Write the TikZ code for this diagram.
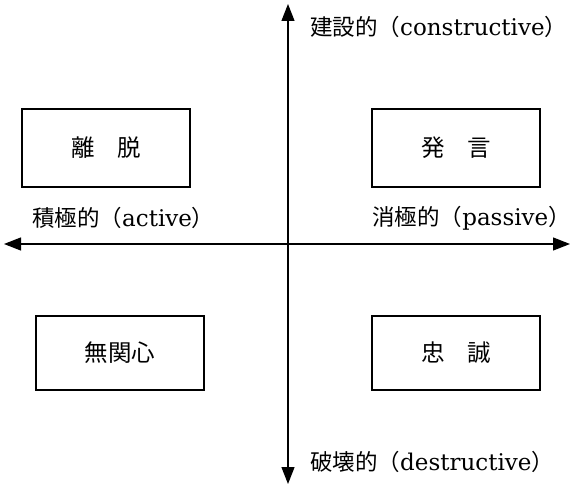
\documentclass[tikz,border=0pt]{standalone}
\usepackage{fontspec}
\setmainfont{DejaVu Serif}
\newfontfamily\jp{Noto Sans CJK JP}
\usetikzlibrary{arrows.meta}
\tikzset{
  axis/.style={line width=1.3pt,-{Triangle[length=17pt,width=13pt]}},
  quad/.style={draw,line width=1.1pt,minimum width=168pt,minimum height=78pt,inner sep=0pt,font=\jp\fontsize{23.5}{25}\selectfont},
  lab/.style={inner sep=0pt,font=\fontsize{23}{26}\selectfont},
}
\newcommand{\jpl}[1]{{\jp\fontsize{22.5}{24}\selectfont #1}}
\begin{document}
\begin{tikzpicture}[x=1pt,y=-1pt]
\useasboundingbox (0,0) rectangle (573,487);
\coordinate (O) at (288,244);
\coordinate (T) at (288,4);
\coordinate (B) at (288,484);
\coordinate (L) at (4,244);
\coordinate (R) at (570,244);
\draw[axis] (O) -- (T);
\draw[axis] (O) -- (B);
\draw[axis] (O) -- (L);
\draw[axis] (O) -- (R);
\node[lab,anchor=west] (con) at (310,27) {\jpl{建設的（}constructive\jpl{）}};
\node[lab,anchor=west] (des) at (310,462) {\jpl{破壊的（}destructive\jpl{）}};
\node[lab,anchor=west] (act) at (32,218) {\jpl{積極的（}active\jpl{）}};
\node[lab,anchor=east] (pas) at (571,218) {\jpl{消極的（}passive\jpl{）}};
\node[quad] (ridatsu) at (106,148) {離\hspace{0.95em}脱};
\node[quad] (hatsugen) at (456,148) {発\hspace{0.95em}言};
\node[quad,minimum height=74pt] (mukanshin) at (120,353) {無関心};
\node[quad,minimum height=74pt] (chusei) at (456,353) {忠\hspace{0.95em}誠};
\end{tikzpicture}
\end{document}
